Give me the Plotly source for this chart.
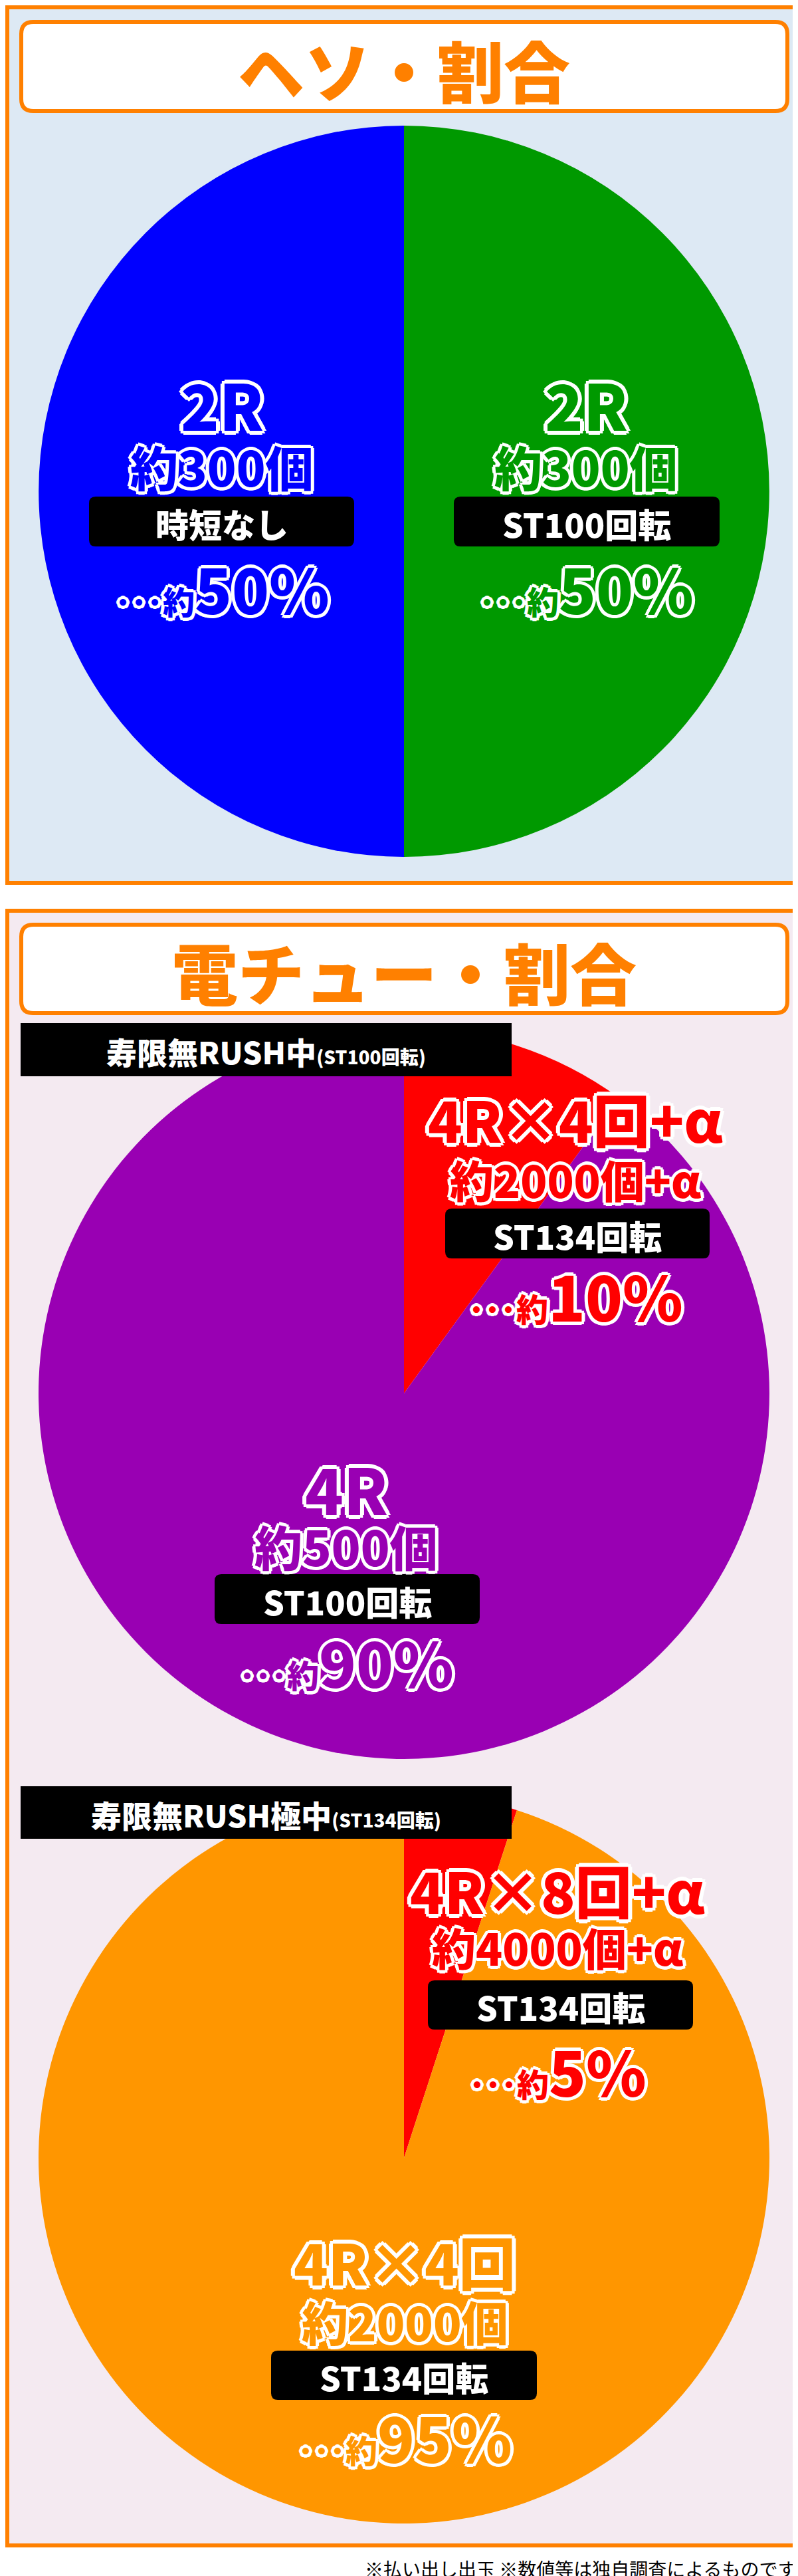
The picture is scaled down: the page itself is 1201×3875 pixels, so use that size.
import plotly.graph_objects as go

W, H = 1201, 3875
FONT = "Noto Sans CJK JP"

# ---- data ----
heso_labels = ["2R 時短なし", "2R ST100回転"]
heso_values = [50, 50]
heso_colors = ["#0000ff", "#009900"]

den1_labels = ["4R×4回+α", "4R"]
den1_values = [10, 90]
den1_colors = ["#ff0000", "#9900b3"]

den2_labels = ["4R×8回+α", "4R×4回"]
den2_values = [5, 95]
den2_colors = ["#ff0000", "#ff9600"]

titles = ["ヘソ・割合", "電チュー・割合"]
rush_labels = ["寿限無RUSH中", "寿限無RUSH極中"]
rush_sub = ["(ST100回転)", "(ST134回転)"]
footnote = "※払い出し出玉 ※数値等は独自調査によるものです"

fig = go.Figure()

def pie(values, colors, cy, r=550, cx=600):
    fig.add_trace(go.Pie(
        values=values, marker=dict(colors=colors, line=dict(width=0)),
        sort=False, direction="clockwise", rotation=0,
        textinfo="none", hoverinfo="skip", showlegend=False,
        domain=dict(x=[(cx - r) / W, (cx + r) / W],
                    y=[1 - (cy + r) / H, 1 - (cy - r) / H])))

pie(heso_values[::-1], heso_colors[::-1], 731)
pie(den1_values, den1_colors, 2088)
pie(den2_values, den2_colors, 3238)

shapes = []
ann = []

def rrect(x0, y0, x1, y1, r, **kw):
    p = (f"M{x0+r},{y0} L{x1-r},{y0} Q{x1},{y0} {x1},{y0+r} L{x1},{y1-r} Q{x1},{y1} {x1-r},{y1} "
         f"L{x0+r},{y1} Q{x0},{y1} {x0},{y1-r} L{x0},{y0+r} Q{x0},{y0} {x0+r},{y0} Z")
    shapes.append(dict(type="path", path=p, xref="x", yref="y", **kw))

shapes.append(dict(type="rect", x0=3, y0=3, x1=1198, y1=1320, xref="x", yref="y",
                   fillcolor="#dde9f4", line=dict(color="#ff8000", width=6), layer="below"))
shapes.append(dict(type="rect", x0=3, y0=1362, x1=1198, y1=3821, xref="x", yref="y",
                   fillcolor="#f4eaf1", line=dict(color="#ff8000", width=6), layer="below"))
rrect(24, 25, 1177, 159, 18, fillcolor="white", line=dict(color="#ff8000", width=6), layer="below")
rrect(24, 1383, 1177, 1516, 18, fillcolor="white", line=dict(color="#ff8000", width=6), layer="below")
ann.append(dict(x=600, y=95, text=titles[0], font=dict(size=100, color="#ff8000", family=FONT, weight=900)))
ann.append(dict(x=600, y=1452, text=titles[1], font=dict(size=100, color="#ff8000", family=FONT, weight=900)))

for y0, y1, lab, sub in [(1531, 1611, rush_labels[0], rush_sub[0]), (2679, 2758, rush_labels[1], rush_sub[1])]:
    shapes.append(dict(type="rect", x0=23, x1=762, y0=y0, y1=y1, xref="x", yref="y",
                       fillcolor="black", line=dict(width=0), layer="above"))
    ann.append(dict(x=392, y=(y0 + y1) / 2 + 2,
                    text=f"{lab}<span style='font-size:28px'>{sub}</span>",
                    font=dict(size=46, color="white", family=FONT, weight=900)))

def outline(w):
    pts = []
    for dx, dy in [(w,0),(-w,0),(0,w),(0,-w),(w*0.7,w*0.7),(-w*0.7,w*0.7),(w*0.7,-w*0.7),(-w*0.7,-w*0.7)]:
        pts.append(f"{dx:.1f}px {dy:.1f}px 0 #fff")
    return ", ".join(pts)

def block(cx, color, head, ys, count, box, boxtext, pct, head_size=95, count_size=72):
    y_head, y_count, y_pct = ys
    bx0, by0, bx1, by1 = box
    ann.append(dict(x=cx, y=y_head, text=head,
                    font=dict(size=head_size, color=color, family=FONT, weight=900, shadow=outline(6))))
    ann.append(dict(x=cx, y=y_count, text=count,
                    font=dict(size=count_size, color=color, family=FONT, weight=900, shadow=outline(5))))
    rrect(bx0, by0, bx1, by1, 10, fillcolor="black", line=dict(width=0), layer="above")
    ann.append(dict(x=(bx0 + bx1) / 2, y=(by0 + by1) / 2 + 2, text=boxtext,
                    font=dict(size=50, color="white", family=FONT, weight=900)))
    ann.append(dict(x=cx, y=y_pct,
                    text=f"<span style='font-size:48px'>･･･約</span>{pct}",
                    font=dict(size=92, color=color, family=FONT, weight=900, shadow=outline(5))))

block(326, heso_colors[0], "2R", (598, 692, 875), "約300個", (126, 739, 525, 814), "時短なし", "50%")
block(874, heso_colors[1], "2R", (598, 692, 875), "約300個", (675, 739, 1075, 814), "ST100回転", "50%")

block(858, den1_colors[0], "4R×4回+α", (1673, 1765, 1939), "約2000個+α",
      (662, 1810, 1060, 1885), "ST134回転", "10%", head_size=85, count_size=66)
block(513, den1_colors[1], "4R", (2229, 2316, 2490), "約500個",
      (315, 2360, 714, 2435), "ST100回転", "90%")

block(831, den2_colors[0], "4R×8回+α", (2833, 2920, 3105), "約4000個+α",
      (636, 2971, 1035, 3045), "ST134回転", "5%", head_size=85, count_size=66)
block(601, den2_colors[1], "4R×4回", (3392, 3483, 3656), "約2000個",
      (400, 3528, 800, 3602), "ST134回転", "95%", head_size=85, count_size=70)

ann.append(dict(x=1192, y=3856, text=footnote, xanchor="right",
                font=dict(size=28, color="black", family=FONT)))

for a in ann:
    a.setdefault("xanchor", "center")
    a.update(xref="x", yref="y", showarrow=False, yanchor="middle")

fig.update_layout(
    width=W, height=H, margin=dict(l=0, r=0, t=0, b=0),
    paper_bgcolor="white", plot_bgcolor="rgba(0,0,0,0)",
    xaxis=dict(range=[0, W], visible=False, fixedrange=True, domain=[0, 1]),
    yaxis=dict(range=[H, 0], visible=False, fixedrange=True, domain=[0, 1]),
    shapes=shapes, annotations=ann)

fig.write_html("out.html", config={"displayModeBar": False})
